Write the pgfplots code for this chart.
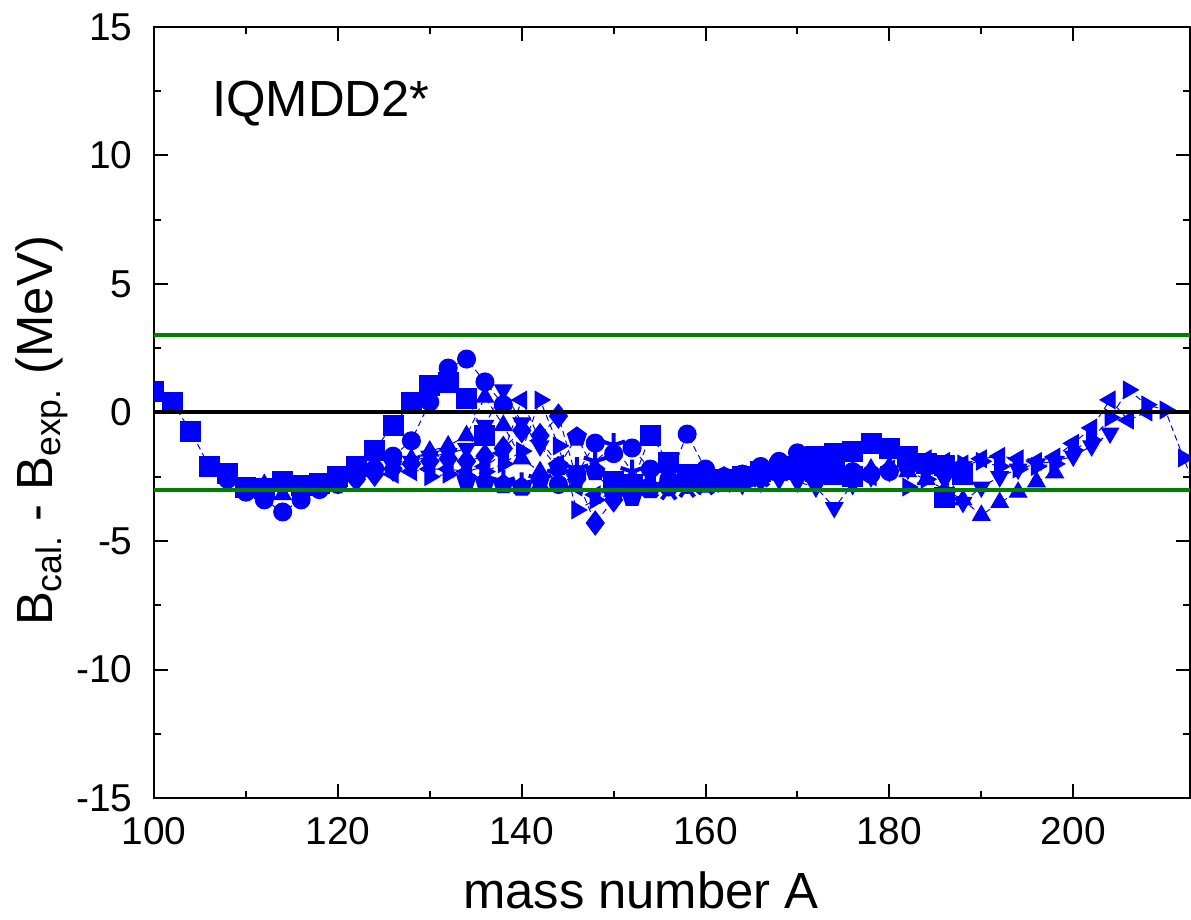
\documentclass[border=0pt]{standalone}
\usepackage{fontspec}
\setmainfont{Liberation Sans}
\usepackage{pgfplots}
\pgfplotsset{compat=1.18}
\definecolor{refgreen}{RGB}{0,128,0}
\pgfplotsset{
  chain/.style={blue, line width=0.5bp, densely dashed, mark size=5bp,
    every mark/.append style={solid, fill=blue, draw=blue}},
  down/.style={every mark/.append style={rotate=180}},
  left/.style={every mark/.append style={rotate=90}},
  right/.style={every mark/.append style={rotate=-90}},
}
\begin{document}
\begin{tikzpicture}
\begin{axis}[
  scale only axis, width=518bp, height=385.5bp,
  xmin=100, xmax=212.7, ymin=-15, ymax=15,
  xtick={100,120,...,200}, ytick={-15,-10,...,15},
  minor x tick num=1, minor y tick num=1,
  tick align=inside, major tick length=7bp, minor tick length=3.5bp,
  axis line style={line width=1bp},
  tick style={black, line width=1bp},
  ticklabel style={font=\fontsize{19.5}{19.5}\selectfont},
  /pgf/number format/assume math mode=true,
  xticklabel style={inner sep=0pt, yshift=-9.5bp},
  yticklabel style={inner sep=0pt, xshift=-10.5bp},
  xlabel={mass number A},
  ylabel={B\textsubscript{cal.} - B\textsubscript{exp.} (MeV)},
  label style={font=\fontsize{25.5}{25.5}\selectfont},
  xlabel style={at={(axis description cs:0.47,-0.143)}, anchor=base},
  ylabel style={at={(axis description cs:-0.0975,0.476)}, anchor=base},
  clip marker paths=true,
]
\coordinate (sw) at (rel axis cs:0,0);
% Z=50
\addplot[chain, mark=square*] coordinates {
 (100,0.8)(102,0.37)(104,-0.72)(106,-2.1)(108,-2.36)(110,-2.9)(112,-2.95)(114,-2.7)
 (116,-2.85)(118,-2.75)(120,-2.5)(122,-2.1)(124,-1.46)(126,-0.49)(128,0.37)(130,1.07)
 (132,1.15)(134,0.56)(136,-0.88)};
% Z=52
\addplot[chain, mark=*, mark size=4.5bp] coordinates {
 (108,-2.6)(110,-3.1)(112,-3.4)(114,-3.87)(116,-3.4)(118,-3.0)(120,-2.8)(122,-2.5)
 (124,-2.2)(126,-1.7)(128,-1.1)(130,0.41)(132,1.73)(134,2.08)(136,1.19)(138,0.3)};
% Z=54
\addplot[chain, mark=triangle*] coordinates {
 (112,-2.8)(114,-3.2)(116,-3.1)(118,-2.9)(120,-2.7)(122,-2.4)(124,-2.2)(126,-2.0)
 (128,-1.8)(130,-1.5)(132,-1.3)(134,-0.9)(136,0.6)(138,-0.5)(140,-1.8)(142,-2.3)};
% Z=56
\addplot[chain, mark=triangle*, down] coordinates {
 (116,-3.0)(118,-2.8)(120,-2.7)(122,-2.5)(124,-2.3)(126,-2.1)(128,-1.9)(130,-1.7)
 (132,-1.6)(134,-1.4)(136,-0.5)(138,0.88)(140,-0.4)(142,-1.3)(144,-2.2)(146,-2.7)};
% Z=58
\addplot[chain, mark=diamond*, mark size=6bp] coordinates {
 (122,-2.6)(124,-2.4)(126,-2.2)(128,-2.0)(130,-1.9)(132,-1.8)(134,-1.9)(136,-1.7)
 (138,-1.4)(140,-0.7)(142,-0.9)(144,-0.14)(146,-2.6)(148,-4.3)(150,-3.4)(152,-2.9)};
% Z=60
\addplot[chain, mark=triangle*, left] coordinates {
 (126,-2.4)(128,-2.3)(130,-2.2)(132,-2.2)(134,-2.3)(136,-2.1)(138,-1.6)(140,0.49)
 (142,-1.1)(144,-2.0)(146,-2.9)(148,-3.2)(150,-3.0)(152,-2.8)(154,-2.7)};
% Z=62
\addplot[chain, mark=triangle*, right] coordinates {
 (130,-2.5)(132,-2.4)(134,-2.5)(136,-2.3)(138,-2.0)(140,-1.5)(142,0.49)(144,-1.3)
 (146,-3.79)(148,-3.4)(150,-3.1)(152,-2.9)(154,-2.8)(156,-2.7)(158,-2.6)};
% Z=64
\addplot[chain, mark=pentagon*] coordinates {
 (134,-2.6)(136,-2.7)(138,-2.8)(140,-2.9)(142,-2.6)(144,-2.1)(146,-0.95)(148,-2.3)
 (150,-3.2)(152,-3.3)(154,-3.0)(156,-2.8)(158,-2.7)(160,-2.6)(162,-2.5)};
% Z=66
\addplot[chain, mark=star, mark size=6bp, every mark/.append style={line width=2bp}] coordinates {
 (138,-2.7)(140,-2.8)(142,-2.6)(144,-2.4)(146,-2.2)(148,-1.9)(150,-1.27)(152,-2.3)
 (154,-2.9)(156,-3.0)(158,-2.9)(160,-2.8)(162,-2.7)(164,-2.6)(166,-2.5)};
% Z=68
\addplot[chain, mark=*, mark size=4.5bp] coordinates {
 (144,-2.8)(146,-2.4)(148,-1.19)(150,-1.6)(152,-1.38)(154,-2.2)(156,-2.6)(158,-0.84)
 (160,-2.2)(162,-2.5)(164,-2.4)(166,-2.3)(168,-2.1)(170,-1.9)(172,-2.0)};
% Z=70
\addplot[chain, mark=square*] coordinates {
 (150,-2.7)(152,-2.8)(154,-0.88)(156,-1.93)(158,-2.4)(160,-2.6)(162,-2.6)(164,-2.5)
 (166,-2.3)(168,-2.2)(170,-2.1)(172,-2.3)(174,-2.4)(176,-2.5)};
% Z=72
\addplot[chain, mark=*, mark size=4.5bp] coordinates {
 (156,-2.9)(158,-2.8)(160,-2.7)(162,-2.6)(164,-2.4)(166,-2.1)(168,-1.9)(170,-1.57)
 (172,-1.9)(174,-2.1)(176,-2.3)(178,-2.4)(180,-2.3)(182,-2.1)};
% Z=74
\addplot[chain, mark=triangle*] coordinates {
 (160,-2.9)(162,-2.8)(164,-2.7)(166,-2.6)(168,-2.4)(170,-2.2)(172,-2.5)(174,-2.6)
 (176,-2.4)(178,-2.2)(180,-2.1)(182,-2.3)(184,-2.6)(186,-3.0)(188,-3.4)(190,-4.0)
 (192,-3.5)(194,-3.1)(196,-2.7)(198,-2.35)};
% Z=76
\addplot[chain, mark=triangle*, down] coordinates {
 (164,-2.8)(166,-2.7)(168,-2.6)(170,-2.7)(172,-2.9)(174,-3.7)(176,-2.8)(178,-2.5)
 (180,-2.3)(182,-2.2)(184,-2.3)(186,-2.6)(188,-3.5)(190,-2.9)(192,-2.5)(194,-2.2)
 (196,-2.0)(198,-1.9)(200,-1.7)(202,-1.3)(204,-0.8)};
% Z=78
\addplot[chain, mark=square*] coordinates {
 (172,-1.7)(174,-1.6)(176,-1.53)(178,-1.2)(180,-1.4)(182,-1.72)(184,-1.98)(186,-2.05)
 (188,-2.4)(186,-3.3)};
% Z=80
\addplot[chain, mark=triangle*, left] coordinates {
 (178,-2.5)(180,-2.2)(182,-1.9)(184,-1.8)(186,-1.9)(188,-2.0)(190,-1.8)(192,-1.7)
 (194,-1.8)(196,-1.9)(198,-1.73)(200,-1.2)(202,-0.6)(204,0.49)(206,-0.3)(208,0.02)};
% Z=82
\addplot[chain, mark=triangle*, right] coordinates {
 (182,-2.9)(184,-2.6)(186,-2.3)(188,-2.0)(190,-1.9)(192,-2.1)(194,-2.2)(196,-2.1)
 (198,-2.0)(200,-1.46)(202,-1.07)(204,-0.2)(206,0.88)(208,0.3)(210,0.1)(212,-1.77)(214,-3.6)};
% reference lines
\addplot[black, line width=2bp, no marks] coordinates {(100,0)(212.7,0)};
\addplot[refgreen, line width=2bp, no marks] coordinates {(100,3)(212.7,3)};
\addplot[refgreen, line width=2bp, no marks] coordinates {(100,-3)(212.7,-3)};
\node[anchor=base west, font=\fontsize{25.5}{25.5}\selectfont, inner sep=0pt]
  at (axis cs:106.3,11.5) {IQMDD2*};
\end{axis}
\pgfresetboundingbox
\path[use as bounding box] ([shift={(-77bp,-61bp)}]sw) rectangle ++(595.5bp,460bp);
\end{tikzpicture}
\end{document}
